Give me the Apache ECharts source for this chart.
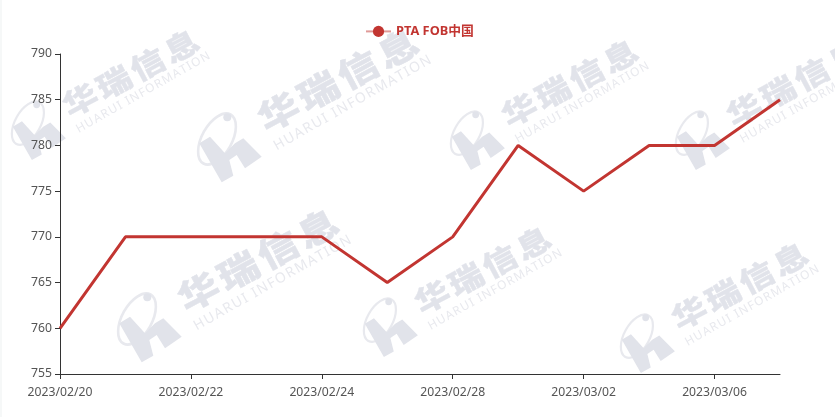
<!DOCTYPE html>
<html><head><meta charset="utf-8">
<style>html,body{margin:0;padding:0;background:#fff}#c{width:835px;height:417px}</style>
<script src="https://cdn.jsdelivr.net/npm/echarts@6/dist/echarts.min.js"></script>
</head><body><div id="c"></div>
<script>
const categories=["2023/02/20","2023/02/21","2023/02/22","2023/02/23","2023/02/24","2023/02/27","2023/02/28","2023/03/01","2023/03/02","2023/03/03","2023/03/06","2023/03/07"];
const values=[760,770,770,770,770,765,770,780,775,780,780,785];
const seriesName="PTA FOB中国";
const watermarkSpots=[[33,130,.85],[223,147,1],[143,327,1],[385,327,.85],[472,140,.85],[697,140,.85],[642,343,.85]];
const FONT='"Noto Sans","Noto Sans CJK SC",sans-serif';
const CJK='"Noto Sans CJK SC",sans-serif';
const WM='#e1e3ea', WM2='#e8e9ee';
function watermark(){
  const ch=[...'华瑞信息'], en='HUARUI INFORMATION', ang=28*Math.PI/180, ang2=29.5*Math.PI/180;
  const kids=[
    {type:'ellipse',shape:{cx:0,cy:0,rx:28,ry:15},x:-6,y:-8,rotation:61*Math.PI/180,style:{fill:'none',stroke:WM2,lineWidth:2.6}},
    {type:'circle',shape:{cx:4.3,cy:-29.7,r:4},style:{fill:WM}},
    {type:'polygon',shape:{points:[[-13,-10.3],[2,6.3],[12,-3.7],[20.3,-8.7],[38.7,9.7],[22,21.3],[13.7,8],[6.3,13],[10.3,28.7],[-1.3,35.3],[-23.7,-3.7]]},style:{fill:WM}}
  ];
  ch.forEach((c,i)=>{const d=(i-1.5)*45;kids.push({type:'text',x:115+d*Math.cos(ang),y:-67-d*Math.sin(ang),rotation:ang,scaleY:.85,
    style:{text:c,fill:WM,stroke:WM,lineWidth:.4,font:'900 41px '+CJK,align:'center',verticalAlign:'middle'}});});
  const ctx=document.createElement('canvas').getContext('2d');
  ctx.font='14px "Noto Sans"';
  const gap=1.4, widths=[...en].map(c=>ctx.measureText(c).width+gap);
  const total=widths.reduce((a,b)=>a+b,0);
  let pos=-total/2;
  [...en].forEach((c,i)=>{const d=pos+widths[i]/2;pos+=widths[i];kids.push({type:'text',x:129.5+d*Math.cos(ang2),y:-44-d*Math.sin(ang2),rotation:ang2,
    style:{text:c,fill:WM2,font:'14px "Noto Sans"',align:'center',verticalAlign:'middle'}});});
  return kids;
}
const chart=echarts.init(document.getElementById('c'),null,{renderer:'canvas'});
chart.setOption({
  animation:false,backgroundColor:'#fff',
  graphic:{elements:[
    {type:'rect',shape:{x:0,y:0,width:2,height:417},z:-2,style:{fill:'#f6f8f8'}},
    ...watermarkSpots.map(p=>({type:'group',x:p[0],y:p[1],scaleX:p[2],scaleY:p[2],z:-1,silent:true,children:watermark()}))
  ]},
  legend:{top:20,left:360,itemWidth:25,itemHeight:14,itemGap:10,data:[seriesName],
    textStyle:{color:'#c23531',fontSize:12.8,fontWeight:'bold',fontFamily:FONT},lineStyle:{opacity:.5,width:2}},
  grid:{left:60,right:55,top:54,bottom:43,containLabel:false},
  xAxis:{type:'category',boundaryGap:false,data:categories,
    axisLine:{lineStyle:{color:'#333',width:1}},axisTick:{show:true,alignWithLabel:true,length:5,lineStyle:{color:'#333'},interval:1},
    axisLabel:{interval:1,color:'#555',fontSize:12.2,margin:12,fontFamily:FONT}},
  yAxis:{type:'value',min:755,max:790,interval:5,splitLine:{show:false},
    axisLine:{show:true,lineStyle:{color:'#333',width:1}},axisTick:{show:true,length:5,lineStyle:{color:'#333'}},
    axisLabel:{color:'#555',fontSize:12.2,margin:8,fontFamily:FONT}},
  series:[{name:seriesName,type:'line',data:values,showSymbol:false,symbol:'circle',symbolSize:6,z:5,
    lineStyle:{color:'#c23531',width:3},itemStyle:{color:'#c23531'}}]
});
</script></body></html>
